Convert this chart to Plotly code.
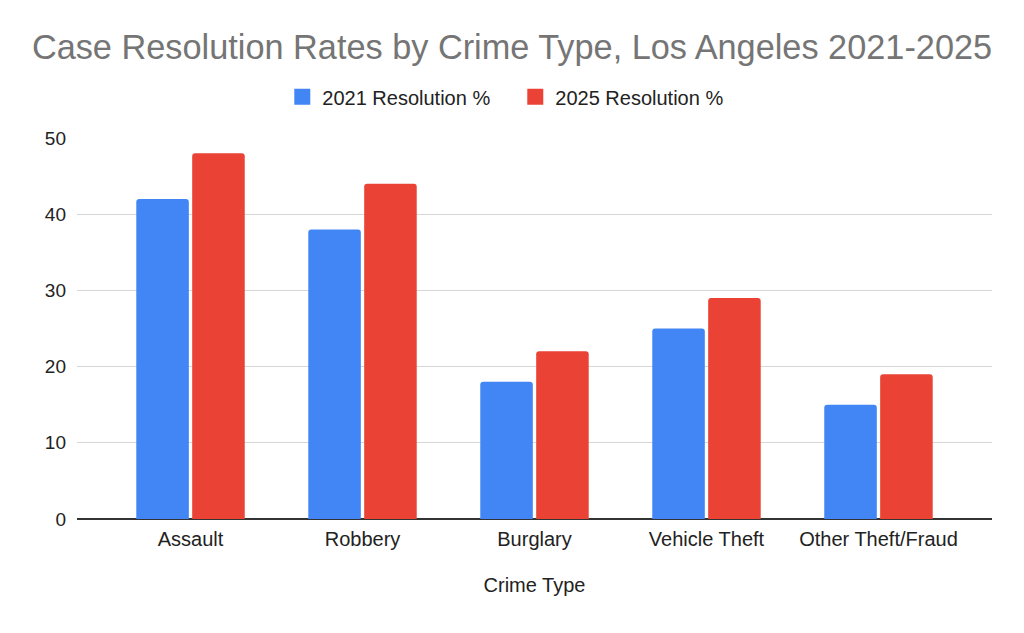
import plotly.graph_objects as go

categories = ["Assault", "Robbery", "Burglary", "Vehicle Theft", "Other Theft/Fraud"]
res_2021 = [42, 38, 18, 25, 15]
res_2025 = [48, 44, 22, 29, 19]
series_names = ["2021 Resolution %", "2025 Resolution %"]
series_colors = ["#4285F4", "#EA4335"]
y_ticks = [0, 10, 20, 30, 40, 50]

FONT = "Liberation Sans, Arial, sans-serif"

fig = go.Figure()
for vals, name, col in zip([res_2021, res_2025], series_names, series_colors):
    fig.add_trace(go.Bar(x=categories, y=vals, name=name, showlegend=False,
                         marker=dict(color=col, cornerradius=3, line=dict(width=0))))
# legend proxies with larger square swatches
for name, col in zip(series_names, series_colors):
    fig.add_trace(go.Scatter(x=[None], y=[None], mode="markers", name=name,
                             marker=dict(symbol="square", size=20, color=col)))

fig.update_layout(
    width=1008, height=617,
    paper_bgcolor="white", plot_bgcolor="white",
    margin=dict(l=69, r=24, t=130, b=106),
    font=dict(family=FONT, size=17, color="#222222"),
    title=dict(text="Case Resolution Rates by Crime Type, Los Angeles 2021-2025",
               x=0.5, xanchor="center", y=0.937, yanchor="middle",
               font=dict(family=FONT, size=34.3, color="#757575")),
    barmode="group", bargap=0.35, bargroupgap=0.06,
    legend=dict(orientation="h", x=0.479, xanchor="center", y=1.108, yanchor="middle",
                font=dict(size=20, color="#222222"), itemsizing="trace",
                entrywidth=188, traceorder="normal"),
    xaxis=dict(title=dict(text="Crime Type", font=dict(size=20), standoff=28),
               range=[-0.66, 4.66], showgrid=False, ticks="", showline=False,
               tickfont=dict(size=20), ticklabelstandoff=6),
    yaxis=dict(range=[0, 50], tickvals=y_ticks, showgrid=True, gridcolor="#d6d6d6",
               gridwidth=1, zeroline=True, zerolinecolor="#333333", zerolinewidth=1.5,
               ticks="", tickfont=dict(size=19), ticklabelstandoff=10),
)

fig.write_html("out.html")
